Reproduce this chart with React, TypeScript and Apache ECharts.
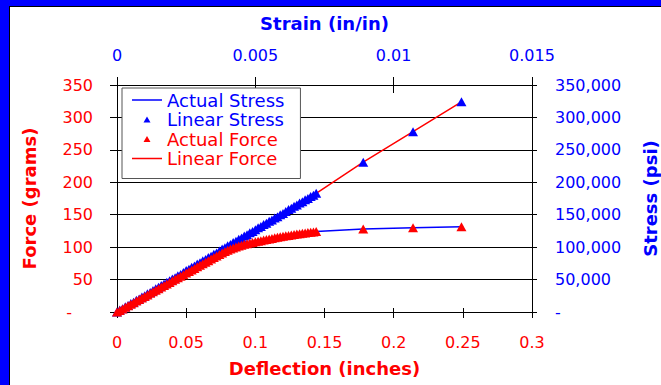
import { useEffect, useRef } from "react";
import * as echarts from "echarts";

// Deflection (inches) of each reading
const deflection = [
  0, 0.002, 0.004, 0.006, 0.008, 0.01, 0.012, 0.014, 0.016, 0.018, 0.02, 0.022, 0.024,
  0.026, 0.028, 0.03, 0.032, 0.034, 0.036, 0.038, 0.04, 0.042, 0.044, 0.046, 0.048, 0.05,
  0.052, 0.054, 0.056, 0.058, 0.06, 0.062, 0.064, 0.066, 0.068, 0.07, 0.072, 0.074, 0.076,
  0.078, 0.08, 0.082, 0.084, 0.086, 0.088, 0.09, 0.092, 0.094, 0.096, 0.098, 0.1, 0.102,
  0.104, 0.106, 0.108, 0.11, 0.112, 0.114, 0.116, 0.118, 0.12, 0.122, 0.124, 0.126, 0.128,
  0.13, 0.132, 0.134, 0.136, 0.138, 0.14, 0.142, 0.144, 0.178, 0.214, 0.249,
];

// Force (grams) – left axis
const actualForce = [
  0, 2.4, 4.8, 7.2, 9.6, 12, 14.4, 16.8, 19.2, 21.6, 24, 26.4, 28.8, 31.2, 33.6, 36, 38.4,
  40.8, 43.2, 45.6, 48, 50.4, 52.8, 55.2, 57.6, 60, 62.4, 64.8, 67.2, 69.6, 72, 74.4, 76.8,
  79.2, 81.6, 84, 86.3, 88.6, 91, 93.2, 95.2, 97, 98.7, 100.3, 101.8, 103.1, 104.3, 105.4,
  106.4, 107.3, 108.2, 109.1, 110, 110.9, 111.8, 112.7, 113.5, 114.3, 115.1, 115.9, 116.7,
  117.4, 118.1, 118.8, 119.5, 120.1, 120.7, 121.3, 121.9, 122.5, 123, 123.5, 124, 128, 130,
  131.5,
];
const linearForce = [
  0, 3, 5, 8, 10, 13, 15, 18, 20, 23, 25, 28, 30, 33, 36, 38, 41, 43, 46, 48, 51, 53, 56,
  58, 61, 64, 66, 69, 71, 74, 76, 79, 81, 84, 86, 89, 91, 94, 97, 99, 102, 104, 107, 109,
  112, 114, 117, 119, 122, 124, 127, 130, 132, 135, 137, 140, 142, 145, 147, 150, 152, 155,
  158, 160, 163, 165, 168, 170, 173, 175, 178, 180, 183, 231, 278, 324,
];

// Stress (psi) – right axis
const actualStress = [
  0, 2400, 4800, 7200, 9600, 12000, 14400, 16800, 19200, 21600, 24000, 26400, 28800, 31200,
  33600, 36000, 38400, 40800, 43200, 45600, 48000, 50400, 52800, 55200, 57600, 60000, 62400,
  64800, 67200, 69600, 72000, 74400, 76800, 79200, 81600, 84000, 86300, 88600, 91000, 93200,
  95200, 97000, 98700, 100300, 101800, 103100, 104300, 105400, 106400, 107300, 108200,
  109100, 110000, 110900, 111800, 112700, 113500, 114300, 115100, 115900, 116700, 117400,
  118100, 118800, 119500, 120100, 120700, 121300, 121900, 122500, 123000, 123500, 124000,
  128000, 130000, 131500,
];
const linearStress = [
  0, 3000, 5000, 8000, 10000, 13000, 15000, 18000, 20000, 23000, 25000, 28000, 30000, 33000,
  36000, 38000, 41000, 43000, 46000, 48000, 51000, 53000, 56000, 58000, 61000, 64000, 66000,
  69000, 71000, 74000, 76000, 79000, 81000, 84000, 86000, 89000, 91000, 94000, 97000, 99000,
  102000, 104000, 107000, 109000, 112000, 114000, 117000, 119000, 122000, 124000, 127000,
  130000, 132000, 135000, 137000, 140000, 142000, 145000, 147000, 150000, 152000, 155000,
  158000, 160000, 163000, 165000, 168000, 170000, 173000, 175000, 178000, 180000, 183000,
  231000, 278000, 324000,
];

// Axis ranges
const deflectionAxis = { min: 0, max: 0.3, step: 0.05 };
const strainAxis = { min: 0, max: 0.015, step: 0.005 };
const forceAxis = { min: 0, max: 350, step: 50 };
const stressAxis = { min: 0, max: 350000, step: 50000 };

const RED = "#ff0000";
const BLUE = "#0000ff";
const FONT = "DejaVu Sans";

const LINE_ICON =
  "path://M0,0L0.01,0L0,0.01Z M0,2.75L30,2.75L30,4.25L0,4.25Z M30,7L29.99,7L30,6.99Z";
const TRI_ICON =
  "path://M0,0L0.01,0L0,0.01Z M11.5,6.5L15,0.5L18.5,6.5Z M30,7L29.99,7L30,6.99Z";

const pairs = (ys: number[]) => deflection.map((d, i) => [d, ys[i]]);

export default function App() {
  const ref = useRef<HTMLDivElement>(null);

  useEffect(() => {
    document.body.style.margin = "0";
    const chart = echarts.init(ref.current!, null, { renderer: "svg" });
    const tickLine = { color: "#000", width: 1 };
    const option: any = {
      animation: false,
      grid: { left: 107, top: 78, width: 415, height: 227, outerBoundsMode: "none" },
      legend: {
        orient: "vertical",
        left: 112,
        top: 81,
        padding: [3, 16, 11, 10],
        itemGap: 1.5,
        itemWidth: 30,
        itemHeight: 7,
        backgroundColor: "#fff",
        borderColor: "#555",
        borderWidth: 1,
        selectedMode: false,
        textStyle: { fontFamily: FONT, fontSize: 18 },
        data: [
          { name: "Actual Stress", icon: LINE_ICON, textStyle: { color: BLUE } },
          { name: "Linear Stress", icon: TRI_ICON, textStyle: { color: BLUE } },
          { name: "Actual Force", icon: TRI_ICON, textStyle: { color: RED } },
          { name: "Linear Force", icon: LINE_ICON, textStyle: { color: RED } },
        ],
      },
      xAxis: [
        {
          type: "value",
          position: "bottom",
          min: deflectionAxis.min,
          max: deflectionAxis.max,
          interval: deflectionAxis.step,
          axisLine: { show: true, onZero: false, lineStyle: tickLine },
          axisTick: { show: true, length: 6, lineStyle: tickLine },
          axisLabel: { color: RED, fontFamily: FONT, fontSize: 16, margin: 22 },
          splitLine: { show: false },
          name: "Deflection (inches)",
          nameLocation: "middle",
          nameGap: 47,
          nameTextStyle: { color: RED, fontFamily: FONT, fontSize: 18, fontWeight: "bold" },
        },
        {
          type: "value",
          position: "top",
          min: strainAxis.min,
          max: strainAxis.max,
          interval: strainAxis.step,
          axisLine: { show: false, onZero: false },
          axisTick: { show: true, length: 8, lineStyle: tickLine },
          axisLabel: { color: BLUE, fontFamily: FONT, fontSize: 16, margin: 22 },
          splitLine: { show: false },
          name: "Strain (in/in)",
          nameLocation: "middle",
          nameGap: 53,
          nameTextStyle: { color: BLUE, fontFamily: FONT, fontSize: 18, fontWeight: "bold" },
        },
        {
          type: "value",
          position: "bottom",
          min: deflectionAxis.min,
          max: deflectionAxis.max,
          interval: deflectionAxis.step,
          axisLine: { show: false, onZero: false },
          axisTick: { show: true, inside: true, length: 4, lineStyle: tickLine },
          axisLabel: { show: false },
          splitLine: { show: false },
        },
        {
          type: "value",
          position: "top",
          min: strainAxis.min,
          max: strainAxis.max,
          interval: strainAxis.step,
          axisLine: { show: false, onZero: false },
          axisTick: { show: true, inside: true, length: 8, lineStyle: tickLine },
          axisLabel: { show: false },
          splitLine: { show: false },
        },
      ],
      yAxis: [
        {
          type: "value",
          position: "left",
          min: forceAxis.min,
          max: forceAxis.max,
          interval: forceAxis.step,
          axisLine: { show: true, onZero: false, lineStyle: tickLine },
          axisTick: { show: true, length: 7, lineStyle: tickLine },
          axisLabel: {
            color: RED,
            fontFamily: FONT,
            fontSize: 16,
            margin: 24,
            formatter: (v: number) => (v === 0 ? "{d|-}" : String(v)),
            rich: { d: { color: RED, fontFamily: FONT, fontSize: 16, padding: [0, 21, 0, 0] } },
          },
          splitLine: { show: true, lineStyle: { color: "#000", width: 1 } },
          name: "Force (grams)",
          nameLocation: "middle",
          nameGap: 79,
          nameTextStyle: { color: RED, fontFamily: FONT, fontSize: 18, fontWeight: "bold" },
        },
        {
          type: "value",
          position: "right",
          min: stressAxis.min,
          max: stressAxis.max,
          interval: stressAxis.step,
          axisLine: { show: true, onZero: false, lineStyle: tickLine },
          axisTick: { show: true, length: 5, lineStyle: tickLine },
          axisLabel: {
            color: BLUE,
            fontFamily: FONT,
            fontSize: 16,
            margin: 23,
            formatter: (v: number) => (v === 0 ? "-" : v.toLocaleString("en-US")),
          },
          splitLine: { show: false },
          name: "Stress (psi)",
          nameLocation: "middle",
          nameGap: 109,
          nameTextStyle: { color: BLUE, fontFamily: FONT, fontSize: 18, fontWeight: "bold" },
        },
      ],
      series: [
        {
          name: "Actual Stress",
          type: "line",
          xAxisIndex: 0,
          yAxisIndex: 1,
          data: pairs(actualStress),
          symbol: "none",
          lineStyle: { color: BLUE, width: 1.5 },
          itemStyle: { color: BLUE },
          silent: true,
          z: 1,
        },
        {
          name: "Linear Stress",
          type: "scatter",
          xAxisIndex: 0,
          yAxisIndex: 1,
          data: pairs(linearStress),
          symbol: "triangle",
          symbolSize: [10, 9],
          itemStyle: { color: BLUE, opacity: 1 },
          silent: true,
          z: 2,
        },
        {
          name: "Actual Force",
          type: "scatter",
          xAxisIndex: 0,
          yAxisIndex: 0,
          data: pairs(actualForce),
          symbol: "triangle",
          symbolSize: [10, 9],
          itemStyle: { color: RED, opacity: 1 },
          silent: true,
          z: 3,
        },
        {
          name: "Linear Force",
          type: "line",
          xAxisIndex: 0,
          yAxisIndex: 0,
          data: pairs(linearForce),
          symbol: "none",
          lineStyle: { color: RED, width: 1.5 },
          itemStyle: { color: RED },
          silent: true,
          z: 1,
        },
      ],
    };
    chart.setOption(option);
    return () => chart.dispose();
  }, []);

  return (
    <div
      style={{
        position: "relative",
        width: 661,
        height: 385,
        background: BLUE,
        overflow: "hidden",
      }}
    >
      <div
        ref={ref}
        style={{
          position: "absolute",
          left: 9,
          top: 6,
          width: 651,
          height: 378,
          background: "#fff",
          borderLeft: "1px solid #000",
          borderTop: "1px solid #000",
        }}
      />
    </div>
  );
}
